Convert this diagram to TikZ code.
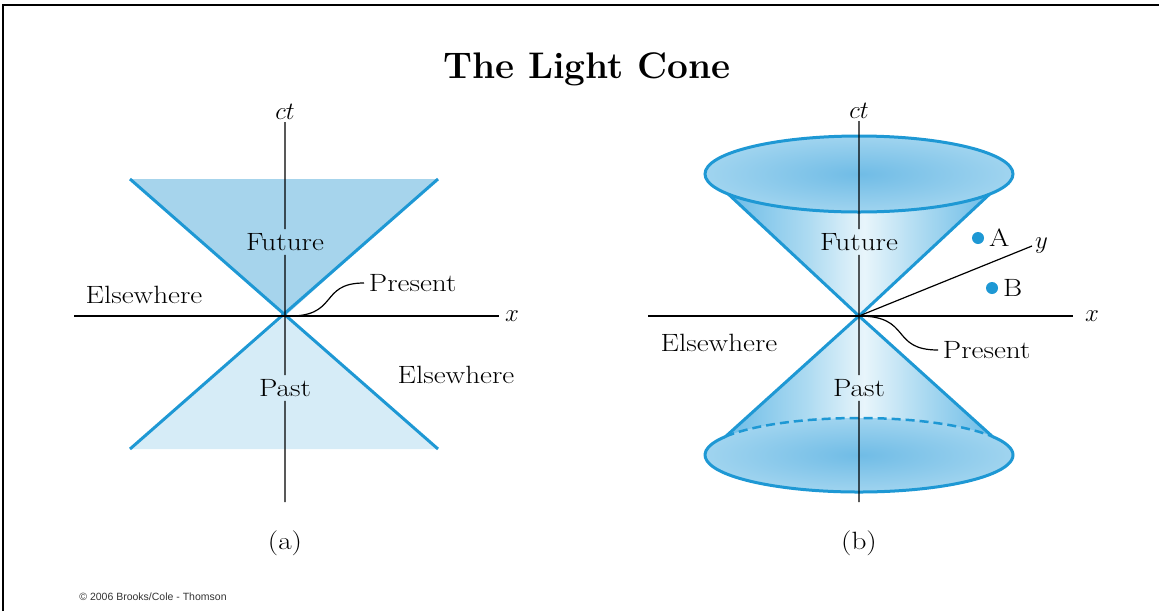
\documentclass[tikz,border=0pt]{standalone}
\usepackage{fontspec}
\newfontfamily\copyfont{Liberation Sans}
\usetikzlibrary{positioning, calc}

\definecolor{coneblue}{RGB}{30,152,212}
\definecolor{futfill}{RGB}{166,212,236}
\definecolor{pastfill}{RGB}{214,236,247}
\definecolor{shadeblue}{RGB}{108,188,231}
\definecolor{shadelight}{RGB}{172,218,241}
\definecolor{shadewhite}{RGB}{232,245,251}
\definecolor{capin}{RGB}{112,188,230}
\definecolor{capout}{RGB}{160,212,239}

\pgfdeclarehorizontalshading{conebody}{100bp}{color(0bp)=(shadeblue); color(25bp)=(shadeblue); color(40bp)=(shadelight); color(51bp)=(shadewhite); color(62bp)=(shadelight); color(75bp)=(shadeblue); color(100bp)=(shadeblue)}

\begin{document}
\begin{tikzpicture}[x=1pt, y=-1pt,
    axis/.style={black, line width=1.4pt},
    coneline/.style={coneblue, line width=3pt},
    pointer/.style={black, line width=1.2pt},
    region/.style={font=\fontsize{25}{29}\selectfont, xscale=1.17, inner sep=4pt},
    axislabel/.style={font=\fontsize{24}{28}\selectfont, inner sep=2pt},
    title/.style={font=\fontsize{37}{42}\selectfont\bfseries},
    body/.style={shading=conebody},
    event/.style={circle, fill=coneblue, inner sep=0pt, minimum size=12pt}
]
\useasboundingbox (0,0) rectangle (1159,611);

% frame and title
\draw[line width=2.5pt] (3,611) -- (3,5) -- (1159,5);
\node[title] (title) at (587,69) {The Light Cone};

% (a) flat light cone
\coordinate (apexA) at (285,316);
\fill[futfill] (130,179) -- (438,179) -- (apexA) -- cycle;
\fill[pastfill] (130,449) -- (438,449) -- (apexA) -- cycle;
\draw[coneline] (130,179) -- (438,449);
\draw[coneline] (438,179) -- (130,449);

\node[region] (futA) at (285,242) {Future};
\node[region] (pastA) at (285,388) {Past};
\node[region] (elseA1) at (144,295) {Elsewhere};
\node[region] (elseA2) at (456,375) {Elsewhere};
\node[region, anchor=west] (presA) at (364,283) {Present};

\coordinate (ctA-top) at (285,122);
\coordinate (ctA-bot) at (285,502);
\coordinate (xA-left) at (74,316);
\coordinate (xA-right) at (499,316);
\node[axislabel, above=0pt of ctA-top] (ctA) {$ct$};
\node[axislabel, right=4pt of xA-right] (xA) {$x$};
\draw[axis] (ctA-top) -- (futA) -- (pastA) -- (ctA-bot);
\draw[axis] (xA-left) -- (xA-right);
\draw[pointer] (apexA) .. controls (340,318) and (318,283) .. (presA.west);
\node[region] (capA) at (285,543) {(a)};

% (b) light cone in 3D
\coordinate (apexB) at (859,316);
\coordinate (topB) at (859,174);
\coordinate (botB) at (859,455);
\coordinate (futL) at ($(topB)+(148:154 and 38)$);
\coordinate (futR) at ($(topB)+(32:154 and 38)$);
\coordinate (pastL) at ($(botB)+(210:154 and 37)$);
\coordinate (pastR) at ($(botB)+(330:154 and 37)$);

% future cone
\shade[body] (futL) -- (apexB) -- (futR) -- cycle;
\shade[inner color=capin, outer color=capout] (topB) ellipse [x radius=154, y radius=38];
\draw[coneline] (topB) ellipse [x radius=154, y radius=38];
\draw[coneline] (futL) -- (apexB) -- (futR);

% past cone
\shade[body] (pastL) -- (apexB) -- (pastR) -- cycle;
\shade[inner color=capin, outer color=capout] (botB) ellipse [x radius=154, y radius=37];
\draw[coneline] (pastL) arc [start angle=210, end angle=-30, x radius=154, y radius=37];
\draw[coneline, line width=2.5pt, dash pattern=on 9pt off 5pt] (pastL) arc [start angle=210, end angle=330, x radius=154, y radius=37];
\draw[coneline] (pastL) -- (apexB) -- (pastR);

\node[region] (futB) at (859,242) {Future};
\node[region] (pastB) at (859,388) {Past};
\node[region] (elseB) at (719,343) {Elsewhere};
\node[region, anchor=west] (presB) at (938,350) {Present};

\node[event] (evA) at (978,238) {};
\node[region, right=0pt of evA] (labA) {A};
\node[event] (evB) at (992,288) {};
\node[region, right=0pt of evB] (labB) {B};

\coordinate (ctB-top) at (859,121);
\coordinate (ctB-bot) at (859,502);
\coordinate (xB-left) at (648,316);
\coordinate (xB-right) at (1073,316);
\coordinate (yB-end) at (1032,246);
\node[axislabel, above=0pt of ctB-top] (ctB) {$ct$};
\node[axislabel, right=10pt of xB-right] (xB) {$x$};
\node[axislabel, right=1pt of yB-end] (yB) {$y$};
\draw[axis] (ctB-top) -- (futB) -- (pastB) -- (ctB-bot);
\draw[axis] (xB-left) -- (xB-right);
\draw[axis, line width=1.2pt] (apexB) -- (yB-end);
\draw[pointer] (apexB) .. controls (912,316) and (890,350) .. (presB.west);
\node[region] (capB) at (859,543) {(b)};

% credit line
\node[font=\copyfont\fontsize{10.5}{12}\selectfont, text=black!80] (credit) at (153,597) {\textcopyright{} 2006 Brooks/Cole - Thomson};

\end{tikzpicture}
\end{document}
